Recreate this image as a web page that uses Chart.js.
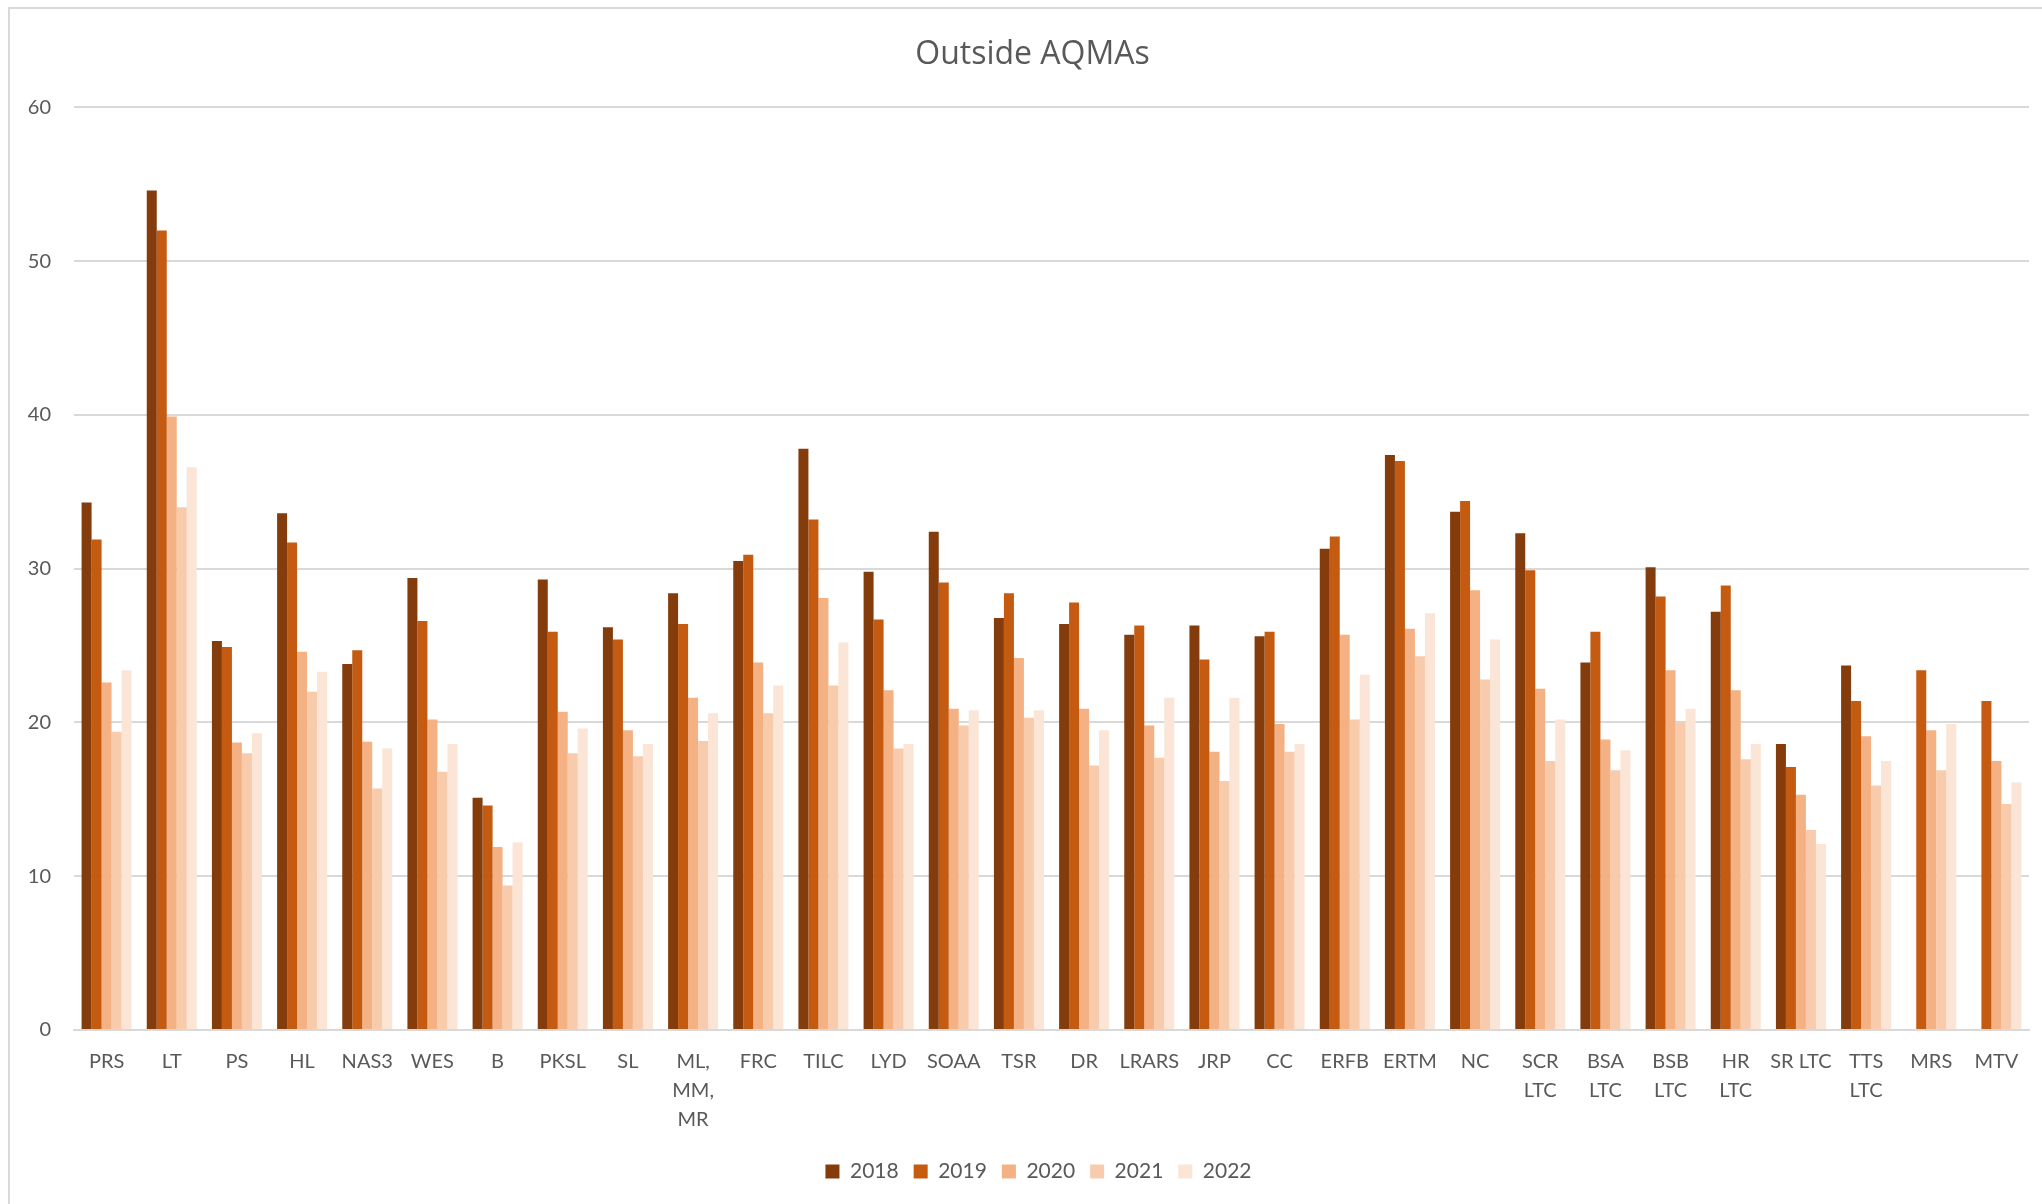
<!DOCTYPE html>
<html>
<head>
<meta charset="utf-8">
<script src="https://cdn.jsdelivr.net/npm/chart.js@4/dist/chart.umd.min.js"></script>
<style>
  html, body { margin: 0; padding: 0; background: #ffffff; overflow: hidden; }
  #wrap { position: relative; width: 2042px; height: 1204px; }
  #frame { position: absolute; left: 8px; top: 7px; width: 2200px; height: 1400px;
           border-left: 2px solid #D9D9D9; border-top: 2px solid #D9D9D9; pointer-events: none; }
  canvas { position: absolute; left: 0; top: 0; }
</style>
</head>
<body>
<div id="wrap">
  <canvas id="c" width="2042" height="1204"></canvas>
  <div id="frame"></div>
</div>
<script>
const categories = ["PRS", "LT", "PS", "HL", "NAS3", "WES", "B", "PKSL", "SL", ["ML,", "MM,", "MR"],
  "FRC", "TILC", "LYD", "SOAA", "TSR", "DR", "LRARS", "JRP", "CC", "ERFB", "ERTM", "NC",
  ["SCR", "LTC"], ["BSA", "LTC"], ["BSB", "LTC"], ["HR", "LTC"], "SR LTC", ["TTS", "LTC"], "MRS", "MTV"];

const years = ["2018", "2019", "2020", "2021", "2022"];

const v2018 = [34.3, 54.6, 25.3, 33.6, 23.8, 29.4, 15.1, 29.3, 26.2, 28.4,
  30.5, 37.8, 29.8, 32.4, 26.8, 26.4, 25.7, 26.3, 25.6, 31.3, 37.4, 33.7,
  32.3, 23.9, 30.1, 27.2, 18.6, 23.7, null, null];
const v2019 = [31.9, 52.0, 24.9, 31.7, 24.7, 26.6, 14.6, 25.9, 25.4, 26.4,
  30.9, 33.2, 26.7, 29.1, 28.4, 27.8, 26.3, 24.1, 25.9, 32.1, 37.0, 34.4,
  29.9, 25.9, 28.2, 28.9, 17.1, 21.4, 23.4, 21.4];
const v2020 = [22.6, 39.9, 18.7, 24.6, 18.75, 20.2, 11.9, 20.7, 19.5, 21.6,
  23.9, 28.1, 22.1, 20.9, 24.2, 20.9, 19.8, 18.1, 19.9, 25.7, 26.1, 28.6,
  22.2, 18.9, 23.4, 22.1, 15.3, 19.1, 19.5, 17.5];
const v2021 = [19.4, 34.0, 18.0, 22.0, 15.7, 16.8, 9.4, 18.0, 17.8, 18.8,
  20.6, 22.4, 18.3, 19.8, 20.3, 17.2, 17.7, 16.2, 18.1, 20.2, 24.3, 22.8,
  17.5, 16.9, 20.0, 17.6, 13.0, 15.9, 16.9, 14.7];
const v2022 = [23.4, 36.6, 19.3, 23.3, 18.3, 18.6, 12.2, 19.6, 18.6, 20.6,
  22.4, 25.2, 18.6, 20.8, 20.8, 19.5, 21.6, 21.6, 18.6, 23.1, 27.1, 25.4,
  20.2, 18.2, 20.9, 18.6, 12.1, 17.5, 19.9, 16.1];

const yTicks = [0, 10, 20, 30, 40, 50, 60];

const seriesValues = [v2018, v2019, v2020, v2021, v2022];
const seriesColors = ["#843C0C", "#C55A11", "#F4B183", "#F8CBAD", "#FBE5D6"];

const FONT = "Lato, 'Open Sans', 'DejaVu Sans', sans-serif";
const TITLE_FONT = "'Open Sans', Lato, 'DejaVu Sans', sans-serif";
const TXT = "#595959";

const shiftBlocks = {
  id: "shiftBlocks",
  beforeDraw(chart) {
    if (chart.titleBlock && !chart.titleBlock._shifted) {
      chart.titleBlock.left += 18; chart.titleBlock.right += 18; chart.titleBlock._shifted = true;
    }
    if (chart.legend && !chart.legend._shifted) {
      chart.legend.left += 24; chart.legend.right += 24; chart.legend._shifted = true;
    }
  }
};

new Chart(document.getElementById("c"), {
  type: "bar",
  data: {
    labels: categories,
    datasets: years.map((y, i) => ({
      label: y,
      data: seriesValues[i],
      backgroundColor: seriesColors[i],
      borderWidth: 0,
      categoryPercentage: 0.767,
      barPercentage: 1.0
    }))
  },
  plugins: [shiftBlocks],
  options: {
    responsive: false,
    animation: false,
    devicePixelRatio: 1,
    layout: { padding: { left: 0, right: 13, top: 0, bottom: 12 } },
    plugins: {
      title: {
        display: true,
        text: "Outside AQMAs",
        color: TXT,
        font: { family: TITLE_FONT, size: 32, weight: "normal", lineHeight: 1.2 },
        padding: { top: 36, bottom: 33 }
      },
      legend: {
        position: "bottom",
        labels: {
          color: TXT,
          font: { family: FONT, size: 21 },
          boxWidth: 14,
          boxHeight: 14,
          padding: 15
        }
      },
      tooltip: { enabled: false }
    },
    scales: {
      x: {
        grid: { display: false, drawTicks: false },
        border: { display: true, color: "#D9D9D9", width: 2 },
        ticks: {
          color: TXT,
          font: { family: FONT, size: 20, lineHeight: 1.45 },
          padding: 17,
          autoSkip: false,
          maxRotation: 0,
          minRotation: 0
        },
        afterFit(scale) { scale.height = 116; }
      },
      y: {
        min: 0,
        max: 60,
        afterBuildTicks(scale) { scale.ticks = yTicks.map(v => ({ value: v })); },
        grid: { color: "#D9D9D9", lineWidth: 2, drawTicks: false },
        border: { display: false },
        ticks: {
          color: TXT,
          font: { family: FONT, size: 20 },
          padding: 23
        },
        afterFit(scale) { scale.width = 74; }
      }
    }
  }
});
</script>
</body>
</html>
